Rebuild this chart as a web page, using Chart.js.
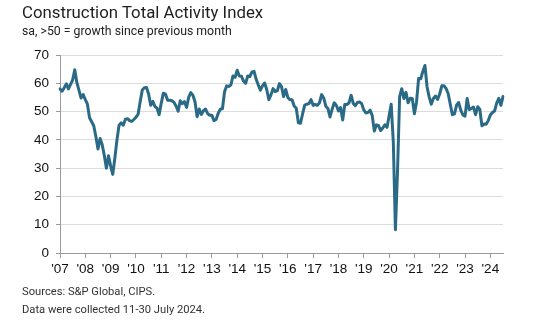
<!DOCTYPE html>
<html><head><meta charset="utf-8">
<script src="https://cdn.jsdelivr.net/npm/chart.js@4.4.0/dist/chart.umd.min.js"></script>
<style>
html,body{margin:0;padding:0;background:#fff;}
#wrap{position:relative;width:560px;height:330px;overflow:hidden;font-family:Roboto,"Liberation Sans",sans-serif;}
#c{position:absolute;left:0;top:0;}
.t{position:absolute;white-space:nowrap;line-height:1;}
#title{left:22px;top:4px;font-size:16.8px;color:#1e1e1e;}
#sub{left:22px;top:25px;font-size:12.3px;color:#222;}
#src{left:22px;top:286px;font-size:11.2px;color:#333;}
#note{left:22px;top:304px;font-size:11.2px;color:#333;}
</style></head>
<body>
<div id="wrap">
<canvas id="c" width="560" height="330"></canvas>
<div class="t" id="title">Construction Total Activity Index</div>
<div class="t" id="sub">sa, &gt;50 = growth since previous month</div>
<div class="t" id="src">Sources: S&amp;P Global, CIPS.</div>
<div class="t" id="note">Data were collected 11-30 July 2024.</div>
</div>
<script>
const years = [2007,2008,2009,2010,2011,2012,2013,2014,2015,2016,2017,2018,2019,2020,2021,2022,2023,2024];
const yearLabels = ["'07","'08","'09","'10","'11","'12","'13","'14","'15","'16","'17","'18","'19","'20","'21","'22","'23","'24"];
const v2007 = [58.0,57.2,58.4,59.8,58.0,59.6,61.2,64.8,60.2,57.5,54.8,56.0];
const v2008 = [54.2,52.6,47.8,46.4,45.0,41.2,36.8,40.5,38.3,34.5,30.0,34.4];
const v2009 = [30.8,27.8,33.5,40.0,45.2,46.0,45.2,47.3,47.5,46.8,46.5,47.2];
const v2010 = [48.0,49.0,53.5,57.6,58.4,58.5,56.2,52.2,53.6,51.8,51.2,48.9];
const v2011 = [53.0,56.5,56.2,54.0,54.0,53.8,53.3,52.0,50.1,53.8,52.8,53.5];
const v2012 = [51.5,55.0,56.7,55.8,53.5,48.2,50.9,49.0,50.3,50.9,49.3,48.7];
const v2013 = [48.7,46.8,47.2,49.4,50.8,51.0,57.0,59.1,58.9,59.4,62.6,62.1];
const v2014 = [64.6,62.6,62.5,60.8,60.0,62.6,62.4,64.0,64.2,61.4,59.4,57.6];
const v2015 = [59.1,60.1,57.8,54.2,55.9,58.1,57.1,57.3,59.9,58.8,55.3,57.8];
const v2016 = [55.0,54.2,54.2,52.0,51.2,46.0,45.9,49.2,52.3,52.6,52.8,54.2];
const v2017 = [52.2,52.5,52.2,53.1,56.0,54.8,51.9,51.1,48.1,50.8,53.1,52.2];
const v2018 = [50.2,51.4,47.0,52.5,52.5,53.1,55.8,52.9,52.1,53.2,53.4,52.8];
const v2019 = [50.6,49.5,49.7,50.5,48.6,43.1,45.3,45.0,43.3,44.2,45.3,44.4];
const v2020 = [48.4,52.6,39.3,8.2,28.9,55.3,58.1,54.6,56.8,53.1,54.7,54.6];
const v2021 = [49.2,53.3,61.7,61.6,64.2,66.3,58.7,55.2,52.6,54.6,55.5,54.3];
const v2022 = [56.3,59.1,59.1,58.2,56.4,52.6,48.9,49.2,52.3,53.2,50.4,48.8];
const v2023 = [48.4,54.6,50.7,51.1,51.6,48.9,51.7,50.8,45.0,45.6,45.5,46.8];
const v2024 = [48.8,49.7,50.2,53.0,54.7,52.2,55.3];

const series = [v2007,v2008,v2009,v2010,v2011,v2012,v2013,v2014,v2015,v2016,v2017,v2018,v2019,v2020,v2021,v2022,v2023,v2024];
const labels = [], values = [];
series.forEach((arr, yi) => arr.forEach((v, mi) => {
  labels.push(years[yi] + '-' + String(mi + 1).padStart(2, '0'));
  values.push(v);
}));

new Chart(document.getElementById('c'), {
  type: 'line',
  data: { labels: labels, datasets: [{
    data: values, borderColor: '#2a6a86', borderWidth: 3, pointRadius: 0,
    tension: 0, fill: false, borderJoinStyle: 'round', borderCapStyle: 'round'
  }]},
  options: {
    responsive: false, animation: false, devicePixelRatio: 1,
    layout: { padding: { left: 0, top: 55, right: 57, bottom: 52 } },
    plugins: { legend: { display: false }, tooltip: { enabled: false } },
    scales: {
      x: {
        type: 'category',
        grid: { drawOnChartArea: false, drawTicks: true, tickLength: 5, color: '#9a9a9a' },
        border: { display: true, color: '#9a9a9a', width: 1 },
        ticks: {
          autoSkip: false, maxRotation: 0, minRotation: 0, padding: 3,
          color: '#111', font: { family: '"Liberation Sans", Arial, sans-serif', size: 13.5 },
          callback: function (v, i) { return i % 12 === 0 ? yearLabels[i / 12] : null; }
        },
        afterFit: function (s) { s.height = 25; }
      },
      y: {
        min: 0, max: 70,
        ticks: { stepSize: 10, padding: 7, color: '#111', font: { family: '"Liberation Sans", Arial, sans-serif', size: 13.5 } },
        grid: { color: '#dcdcdc', tickColor: '#9a9a9a', tickLength: 4, lineWidth: 1 },
        border: { display: true, color: '#9a9a9a', width: 1 },
        afterFit: function (s) { s.width = 60; }
      }
    }
  }
});
</script>
</body></html>
